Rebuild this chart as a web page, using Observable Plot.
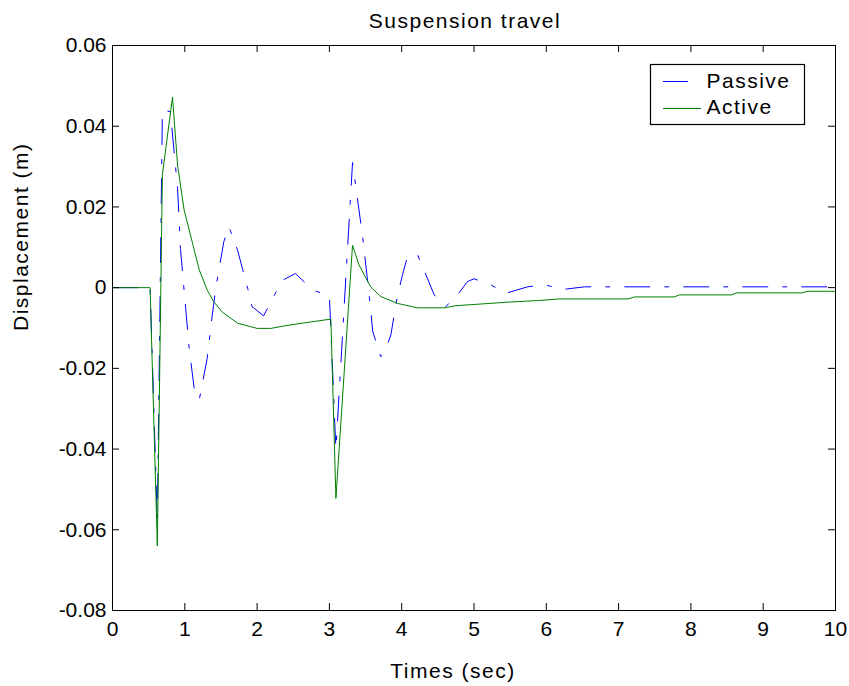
<!DOCTYPE html>
<html><head><meta charset="utf-8">
<script src="https://cdn.jsdelivr.net/npm/d3@7"></script>
<script src="https://cdn.jsdelivr.net/npm/@observablehq/plot@0.6"></script>
<style>
body{margin:0;background:#fff;}
#chart{position:relative;width:849px;height:686px;}
#legend{position:absolute;left:0;top:0;pointer-events:none;}
</style></head><body>
<div id="chart"></div>
<script>
const title = "Suspension travel";
const xLabel = "Times (sec)";
const yLabel = "Displacement (m)";
const seriesNames = ["Passive", "Active"];

const passiveT = [0, 0.52, 0.62, 0.69, 0.80, 0.90, 0.94, 1.06, 1.13, 1.20, 1.31, 1.38, 1.43, 1.54, 1.61, 1.73, 1.87, 1.93, 2.09, 2.24, 2.36, 2.53, 2.77, 3.00, 3.09, 3.32, 3.46, 3.55, 3.60, 3.71, 3.76, 3.85, 3.94, 4.01, 4.08, 4.22, 4.45, 4.61, 4.77, 4.91, 5.00, 5.23, 5.44, 5.74, 5.97, 6.25, 6.53, 10];
const passiveY = [0, 0, -0.058, 0.044, 0.0436, 0.0246, 0.0097, -0.015, -0.025, -0.0278, -0.0175, -0.0068, 0, 0.0114, 0.0151, 0.0093, -0.0002, -0.0047, -0.007, -0.0018, 0.0019, 0.0035, -0.0006, -0.002, -0.040, 0.031, 0.0126, -0.0018, -0.0109, -0.0171, -0.0163, -0.0117, -0.0022, 0.0031, 0.0077, 0.0081, -0.0018, -0.0047, -0.0018, 0.0015, 0.0022, 0.0007, -0.0014, 0.0002, 0.0007, -0.0004, 0.0002, 0.0002];

const activeT = [0, 0.52, 0.62, 0.69, 0.83, 0.90, 0.99, 1.20, 1.31, 1.40, 1.52, 1.73, 2.00, 2.19, 2.37, 2.51, 2.74, 3.02, 3.09, 3.32, 3.41, 3.57, 3.71, 3.94, 4.22, 4.60, 4.73, 5.14, 5.47, 5.88, 6.18, 7.13, 7.22, 7.77, 7.84, 8.56, 8.63, 9.53, 9.62, 10];
const activeY = [0, 0, -0.064, 0.028, 0.0472, 0.0304, 0.0193, 0.0044, -0.0006, -0.0035, -0.0061, -0.0088, -0.0101, -0.0101, -0.0095, -0.0091, -0.0085, -0.0078, -0.0522, 0.0105, 0.0056, 0.0002, -0.0022, -0.0039, -0.005, -0.005, -0.0045, -0.004, -0.0036, -0.0032, -0.0028, -0.0028, -0.0023, -0.0023, -0.0018, -0.0018, -0.0013, -0.0013, -0.0009, -0.0009];

const xTicks = [0, 1, 2, 3, 4, 5, 6, 7, 8, 9, 10];
const xTickLabels = ["0", "1", "2", "3", "4", "5", "6", "7", "8", "9", "10"];
const yTicks = [-0.08, -0.06, -0.04, -0.02, 0, 0.02, 0.04, 0.06];
const yTickLabels = ["-0.08", "-0.06", "-0.04", "-0.02", "0", "0.02", "0.04", "0.06"];

const passive = passiveT.map((t, i) => ({t, v: passiveY[i]}));
const active = activeT.map((t, i) => ({t, v: activeY[i]}));

const W = 849, H = 686, mL = 112, mR = 14, mT = 45, mB = 76;
const plotW = W - mL - mR, plotH = H - mT - mB;
const font = "'Liberation Sans', Arial, Helvetica, sans-serif";
const tickLen = 7;

const chart = Plot.plot({
  width: W, height: H,
  marginLeft: mL, marginRight: mR, marginTop: mT, marginBottom: mB,
  style: {fontFamily: font, fontSize: "21px", background: "white", color: "black", overflow: "visible"},
  x: {domain: [0, 10], ticks: xTicks, tickSize: 0, tickPadding: 11, label: null,
      tickFormat: d => xTickLabels[xTicks.indexOf(d)]},
  y: {domain: [-0.08, 0.06], ticks: yTicks, tickSize: 0, tickPadding: 6, label: null,
      tickFormat: d => yTickLabels[yTicks.findIndex(v => Math.abs(v - d) < 1e-9)]},
  marks: [
    Plot.line(passive, {x: "t", y: "v", stroke: "#0000ff", strokeWidth: 1, strokeDasharray: "25,15,4,15"}),
    Plot.line(active, {x: "t", y: "v", stroke: "#008000", strokeWidth: 1}),
    Plot.tickX(xTicks, {x: d => d, insetTop: plotH - tickLen, stroke: "black"}),
    Plot.tickX(xTicks, {x: d => d, insetBottom: plotH - tickLen, stroke: "black"}),
    Plot.tickY(yTicks, {y: d => d, insetRight: plotW - tickLen, stroke: "black"}),
    Plot.tickY(yTicks, {y: d => d, insetLeft: plotW - tickLen, stroke: "black"}),
    Plot.frame({stroke: "black"}),
    Plot.text([title], {text: d => d, frameAnchor: "top", dx: -9, dy: -18, lineAnchor: "bottom", fontSize: 21, fill: "black"}),
    Plot.text([xLabel], {text: d => d, frameAnchor: "bottom", dx: -21, dy: 67, lineAnchor: "bottom", fontSize: 21, fill: "black"}),
    Plot.text([yLabel], {text: d => d, frameAnchor: "left", dx: -85, dy: 3, rotate: -90, lineAnchor: "bottom", fontSize: 21, fill: "black"})
  ]
});
document.getElementById("chart").appendChild(chart);
d3.select(chart).selectAll("g[aria-label='text'] text").style("letter-spacing", "1.5px");

// Legend overlay
const leg = d3.select("#chart").append("svg").attr("id", "legend").attr("width", W).attr("height", H);
const lx = 650, ly = 64, lw = 154, lh = 60;
leg.append("rect").attr("x", lx + 0.5).attr("y", ly + 0.5).attr("width", lw).attr("height", lh)
  .attr("fill", "white").attr("stroke", "black").attr("stroke-width", 1.2);
const legendItems = [
  {name: seriesNames[0], color: "#0000ff", x2: 688, y: 81.5, ty: 88},
  {name: seriesNames[1], color: "#008000", x2: 701, y: 108.5, ty: 114}
];
legendItems.forEach(it => {
  leg.append("line").attr("x1", 663).attr("x2", it.x2).attr("y1", it.y).attr("y2", it.y)
    .attr("stroke", it.color).attr("stroke-width", 1);
  leg.append("text").attr("x", 706.5).attr("y", it.ty).text(it.name)
    .attr("font-family", font).attr("font-size", 21).attr("letter-spacing", "1.5px").attr("fill", "black");
});
</script>
</body></html>
